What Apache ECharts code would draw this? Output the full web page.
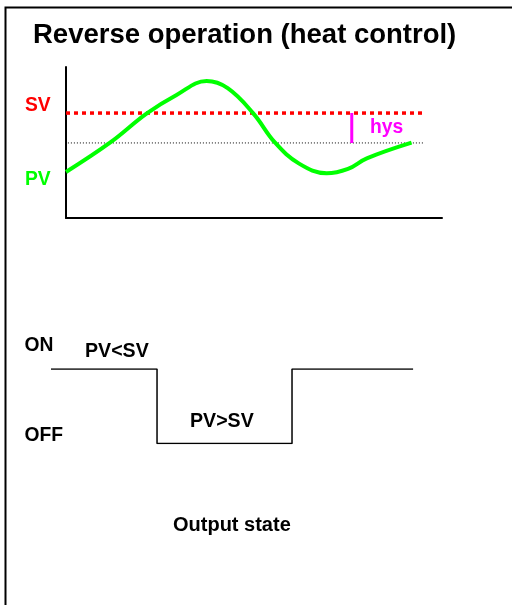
<!DOCTYPE html>
<html>
<head>
<meta charset="utf-8">
<title>Reverse operation (heat control)</title>
<script src="https://cdn.jsdelivr.net/npm/echarts@6/dist/echarts.min.js"></script>
<style>
  html, body { margin: 0; padding: 0; background: #fff; }
  #chart { width: 512px; height: 605px; }
</style>
</head>
<body>
<div id="chart"></div>
<script>
// process value curve (time 0..100, value 0..100)
var pvTime = [0, 11.7, 21.5, 29.4, 37.4, 43, 49.8, 55.6, 62, 69.3, 75, 80, 91.9];
var pvValue = [30.5, 49.9, 69.3, 81.5, 90.7, 86, 69.3, 49.9, 36, 29.6, 32.5, 39.5, 49.9];

// set value and hysteresis band
var svValue = 69.5;
var hysLow = 49.7;
var refLineEnd = 95;
var hysTime = 76;

// output state (1 = ON, 0 = OFF), step at end
var outTime = [-4, 24.2, 60.1, 92.3];
var outState = [1, 0, 1, 1];

var FONT = '"Liberation Sans", Arial, sans-serif';

function zip(a, b) {
  var out = [];
  for (var i = 0; i < a.length; i++) out.push([a[i], b[i]]);
  return out;
}

// y is the vertical centre of the text
function label(text, x, y, size, color) {
  return {
    type: 'text', left: x, top: y - size / 2,
    style: {
      text: text, fill: color, font: 'bold ' + size + 'px ' + FONT
    }
  };
}

var chart = echarts.init(document.getElementById('chart'));

chart.setOption({
  animation: false,
  backgroundColor: '#fff',
  grid: [
    { left: 66, top: 67, width: 376, height: 151 },
    { left: 51, top: 369, width: 391.04, height: 74.6 }
  ],
  xAxis: [
    {
      gridIndex: 0, type: 'value', min: 0, max: 100,
      axisLine: { onZero: false, lineStyle: { color: '#000', width: 2 } },
      axisTick: { show: false }, axisLabel: { show: false }, splitLine: { show: false }
    },
    { gridIndex: 1, type: 'value', min: -4, max: 100, show: false }
  ],
  yAxis: [
    {
      gridIndex: 0, type: 'value', min: 0, max: 100,
      axisLine: { show: true, onZero: false, lineStyle: { color: '#000', width: 2 } },
      axisTick: { show: false }, axisLabel: { show: false }, splitLine: { show: false }
    },
    { gridIndex: 1, type: 'value', min: 0, max: 1, show: false }
  ],
  series: [
    {
      name: 'SV', type: 'line', xAxisIndex: 0, yAxisIndex: 0,
      data: [[0, svValue], [refLineEnd, svValue]],
      symbol: 'none', silent: true,
      lineStyle: { color: '#ff0000', width: 3.5, type: [4, 4] }
    },
    {
      name: 'hysteresis', type: 'line', xAxisIndex: 0, yAxisIndex: 0,
      data: [[0.5, hysLow], [refLineEnd, hysLow]],
      symbol: 'none', silent: true,
      lineStyle: { color: '#000', width: 1, type: [1, 2] }
    },
    {
      name: 'hys', type: 'line', xAxisIndex: 0, yAxisIndex: 0,
      data: [[hysTime, svValue], [hysTime, hysLow]],
      symbol: 'none', silent: true,
      lineStyle: { color: '#ff00ff', width: 3 }
    },
    {
      name: 'PV', type: 'line', xAxisIndex: 0, yAxisIndex: 0,
      data: zip(pvTime, pvValue),
      smooth: 0.4, symbol: 'none',
      lineStyle: { color: '#00ff00', width: 4 }
    },
    {
      name: 'Output', type: 'line', xAxisIndex: 1, yAxisIndex: 1,
      data: zip(outTime, outState),
      step: 'end', symbol: 'none',
      lineStyle: { color: '#000', width: 1.5 }
    }
  ],
  graphic: [
    {
      type: 'polyline', silent: true,
      shape: { points: [[5.5, 605], [5.5, 7.5], [512, 7.5]] },
      style: { stroke: '#000', lineWidth: 2, fill: null }
    },
    label('Reverse operation (heat control)', 33, 35, 27.5, '#000'),
    label('SV', 25, 106, 19.3, '#ff0000'),
    label('PV', 25, 180, 19.3, '#00ff00'),
    label('hys', 370, 128, 19.3, '#ff00ff'),
    label('ON', 24.5, 346, 19.3, '#000'),
    label('PV<SV', 85, 351, 19.6, '#000'),
    label('OFF', 24.5, 436, 19.3, '#000'),
    label('PV>SV', 190, 421, 19.6, '#000'),
    label('Output state', 173, 525, 20, '#000')
  ]
});
</script>
</body>
</html>
